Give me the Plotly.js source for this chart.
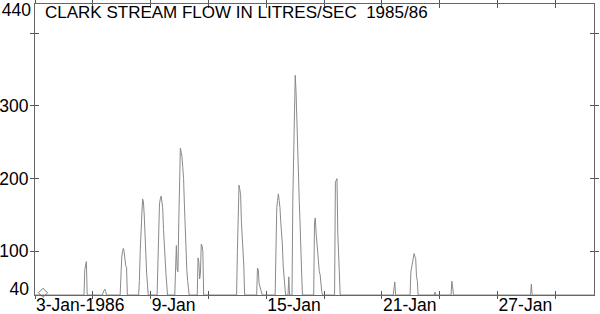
<!DOCTYPE html>
<html><head><meta charset="utf-8">
<script src="https://cdn.plot.ly/plotly-3.0.1.min.js"></script>
<style>html,body{margin:0;padding:0;background:#fff}#chart{width:600px;height:314px}</style>
</head><body><div id="chart"></div>
<script>
const chartTitle = "CLARK STREAM FLOW IN LITRES/SEC\u00a0 1985/86";

const times = [
"1986-01-03 00:00",
"1986-01-05 13:00","1986-01-05 14:00","1986-01-05 15:00","1986-01-05 16:00","1986-01-05 17:00",
"1986-01-06 12:00","1986-01-06 13:00","1986-01-06 14:00","1986-01-06 15:00","1986-01-06 16:00","1986-01-06 17:00",
"1986-01-07 10:00","1986-01-07 11:00","1986-01-07 12:00","1986-01-07 13:00","1986-01-07 14:00","1986-01-07 15:00","1986-01-07 16:00","1986-01-07 17:00","1986-01-07 18:00","1986-01-07 19:00",
"1986-01-08 09:00","1986-01-08 10:00","1986-01-08 11:00","1986-01-08 12:00","1986-01-08 13:00","1986-01-08 14:00","1986-01-08 15:00","1986-01-08 16:00","1986-01-08 17:00","1986-01-08 18:00","1986-01-08 19:00","1986-01-08 20:00","1986-01-08 21:00",
"1986-01-09 08:00","1986-01-09 09:00","1986-01-09 10:00","1986-01-09 11:00","1986-01-09 12:00","1986-01-09 13:00","1986-01-09 14:00","1986-01-09 15:00","1986-01-09 16:00","1986-01-09 17:00","1986-01-09 18:00","1986-01-09 19:00","1986-01-09 20:00","1986-01-09 21:00",
"1986-01-10 06:00","1986-01-10 07:00","1986-01-10 08:00","1986-01-10 09:00","1986-01-10 10:00","1986-01-10 11:00","1986-01-10 12:00","1986-01-10 13:00","1986-01-10 14:00","1986-01-10 15:00","1986-01-10 16:00","1986-01-10 17:00","1986-01-10 18:00","1986-01-10 19:00","1986-01-10 20:00","1986-01-10 21:00","1986-01-10 22:00","1986-01-10 23:00","1986-01-11 00:00",
"1986-01-11 10:00","1986-01-11 11:00","1986-01-11 12:00","1986-01-11 13:00","1986-01-11 14:00","1986-01-11 15:00","1986-01-11 16:00","1986-01-11 17:00","1986-01-11 18:00",
"1986-01-13 11:00","1986-01-13 12:00","1986-01-13 13:00","1986-01-13 14:00","1986-01-13 15:00","1986-01-13 16:00","1986-01-13 17:00","1986-01-13 18:00","1986-01-13 19:00","1986-01-13 20:00","1986-01-13 21:00",
"1986-01-14 12:00","1986-01-14 13:00","1986-01-14 14:00","1986-01-14 15:00","1986-01-14 16:00","1986-01-14 17:00","1986-01-14 18:00","1986-01-14 19:00",
"1986-01-15 11:00","1986-01-15 12:00","1986-01-15 13:00","1986-01-15 14:00","1986-01-15 15:00","1986-01-15 16:00","1986-01-15 17:00","1986-01-15 18:00","1986-01-15 19:00","1986-01-15 20:00","1986-01-15 21:00","1986-01-15 22:00","1986-01-15 23:00","1986-01-16 00:00",
"1986-01-16 03:00","1986-01-16 04:00","1986-01-16 05:00",
"1986-01-16 08:00","1986-01-16 09:00","1986-01-16 10:00","1986-01-16 11:00","1986-01-16 12:00","1986-01-16 13:00","1986-01-16 14:00","1986-01-16 15:00","1986-01-16 16:00","1986-01-16 17:00","1986-01-16 18:00","1986-01-16 19:00","1986-01-16 20:00","1986-01-16 21:00",
"1986-01-17 11:00","1986-01-17 12:00","1986-01-17 13:00","1986-01-17 14:00","1986-01-17 15:00","1986-01-17 16:00","1986-01-17 17:00","1986-01-17 18:00","1986-01-17 19:00","1986-01-17 20:00","1986-01-17 21:00","1986-01-17 22:00",
"1986-01-18 13:00","1986-01-18 14:00","1986-01-18 15:00","1986-01-18 16:00","1986-01-18 17:00","1986-01-18 18:00","1986-01-18 19:00","1986-01-18 20:00",
"1986-01-21 14:00","1986-01-21 15:00","1986-01-21 16:00","1986-01-21 17:00",
"1986-01-22 11:00","1986-01-22 12:00","1986-01-22 13:00","1986-01-22 14:00","1986-01-22 15:00","1986-01-22 16:00","1986-01-22 17:00","1986-01-22 18:00","1986-01-22 19:00","1986-01-22 20:00","1986-01-22 21:00",
"1986-01-23 17:00","1986-01-23 18:00","1986-01-23 19:00",
"1986-01-24 14:00","1986-01-24 15:00","1986-01-24 16:00","1986-01-24 17:00",
"1986-01-28 17:00","1986-01-28 18:00","1986-01-28 19:00",
"1986-02-01 00:00"
];

const flow = [
40,
40,75,82,86,40,
40,44,47,48,45,40,
40,78,92,100,104,99,85,80,78,40,
40,60,100,140,150,172,168,150,115,90,70,55,40,
40,90,140,165,172,176,168,160,130,105,85,70,55,40,
40,95,108,75,72,140,210,242,236,230,215,200,165,130,95,75,60,50,40,
40,91,85,62,70,110,108,100,40,
40,100,143,191,185,178,140,120,100,80,40,
40,77,75,56,52,48,44,40,
40,150,160,170,179,170,160,140,125,110,80,65,50,40,
40,65,40,
40,170,250,335,342,320,275,230,195,170,140,90,70,40,
40,140,146,125,110,90,75,72,68,52,45,40,
40,195,197,200,125,95,60,40,
40,52,58,40,
40,72,80,88,92,97,93,90,65,60,40,
40,44,40,
40,59,51,40,
40,55,40,
40
];

const markerTime = ["1986-01-03 10:00"];
const markerFlow = [43];

const xTickDates = ["1986-01-03","1986-01-06","1986-01-09","1986-01-12","1986-01-15","1986-01-18","1986-01-21","1986-01-24","1986-01-27","1986-01-30"];
const xTickLabels = ["3-Jan-1986","","9-Jan","","15-Jan","","21-Jan","","27-Jan",""];
const yTickValues = [100,200,300,400];
const yTickLabels = ["100","200","300",""];
const yBottomValue = [40], yBottomLabel = ["40"];
const yTopValue = [440], yTopLabel = ["440"];
const xRange = ["1986-01-03","1986-02-01"];
const yRange = [40,440];

const FONT = '"Liberation Sans", Arial, Helvetica, sans-serif';
const lineCol = '#666', tickCol = '#555';
const tickFont = {family: FONT, size: 17.5, color: '#000'};

// helper traces with no points, only so the overlay axes get drawn
const axisHelper = (xa, ya) => ({x: [null], y: [null], type: 'scatter', mode: 'markers', hoverinfo: 'skip', xaxis: xa, yaxis: ya});

const traces = [
  {x: times, y: flow, type: 'scatter', mode: 'lines', line: {color: '#8a8a8a', width: 1}, hoverinfo: 'skip', xaxis: 'x', yaxis: 'y'},
  {x: markerTime, y: markerFlow, type: 'scatter', mode: 'markers', marker: {symbol: 'diamond-open', size: 7, color: '#777', line: {width: 1}}, cliponaxis: false, hoverinfo: 'skip', xaxis: 'x', yaxis: 'y'},
  axisHelper('x2', 'y2'),
  axisHelper('x', 'y3'),
  axisHelper('x', 'y4')
];

const baseX = {type: 'date', range: xRange, tickmode: 'array', tickvals: xTickDates, showgrid: false, zeroline: false, tickcolor: tickCol, tickwidth: 1};
const layout = {
  width: 600, height: 314,
  margin: {l: 35, r: 6, t: 4, b: 19},
  paper_bgcolor: '#fff', plot_bgcolor: '#fff', showlegend: false,
  font: {family: FONT, size: 17.5, color: '#000'},
  title: {text: chartTitle, xref: 'container', yref: 'container', x: 45/600, xanchor: 'left', y: 1 - 6/314, yanchor: 'top', font: {family: FONT, size: 17, color: '#000'}},
  xaxis: Object.assign({}, baseX, {ticktext: xTickLabels, ticks: 'outside', ticklen: 3, showline: true, linecolor: lineCol, linewidth: 1, mirror: 'ticks', ticklabelposition: 'outside right', ticklabelstandoff: -6, tickfont: tickFont, anchor: 'y'}),
  xaxis2: Object.assign({}, baseX, {overlaying: 'x', ticks: 'inside', ticklen: 4, showline: false, mirror: 'ticks', showticklabels: false, anchor: 'y2'}),
  yaxis: {range: yRange, tickmode: 'array', tickvals: yTickValues, ticktext: yTickLabels, ticks: 'outside', ticklen: 4, tickcolor: tickCol, showline: true, linecolor: lineCol, linewidth: 1, mirror: 'ticks', showgrid: false, zeroline: false, ticklabelstandoff: -2, tickfont: tickFont, anchor: 'x'},
  yaxis2: {overlaying: 'y', range: yRange, tickmode: 'array', tickvals: yTickValues, ticks: 'inside', ticklen: 4, tickcolor: tickCol, showline: false, mirror: 'ticks', showgrid: false, zeroline: false, showticklabels: false, anchor: 'x2'},
  yaxis3: {overlaying: 'y', range: yRange, tickmode: 'array', tickvals: yBottomValue, ticktext: yBottomLabel, ticks: '', ticklabelposition: 'outside', ticklabelshift: -6, ticklabelstandoff: 5, showline: false, showgrid: false, zeroline: false, tickfont: tickFont, anchor: 'x'},
  yaxis4: {overlaying: 'y', range: yRange, tickmode: 'array', tickvals: yTopValue, ticktext: yTopLabel, ticks: '', ticklabelposition: 'outside', ticklabelshift: 6, ticklabelstandoff: 3, showline: false, showgrid: false, zeroline: false, tickfont: tickFont, anchor: 'x'}
};

Plotly.newPlot('chart', traces, layout, {staticPlot: true, displayModeBar: false});
</script>
</body></html>
